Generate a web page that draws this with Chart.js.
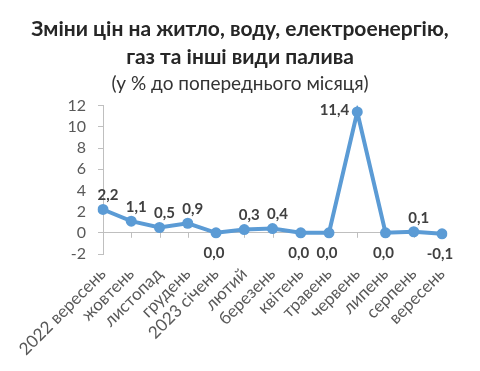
<!DOCTYPE html>
<html>
<head>
<meta charset="utf-8">
<script src="https://cdn.jsdelivr.net/npm/chart.js@4.4.0/dist/chart.umd.min.js"></script>
<style>
    html, body { margin: 0; padding: 0; background: #fff; }
    #wrap { width: 480px; height: 371px; }
</style>
</head>
<body>
<div id="wrap"><canvas id="price-line-chart"></canvas></div>
<script>
var months = ['2022 вересень', 'жовтень', 'листопад', 'грудень', '2023 січень', 'лютий',
    'березень', 'квітень', 'травень', 'червень', 'липень', 'серпень', 'вересень'];
var price_change = [2.2, 1.1, 0.5, 0.9, 0.0, 0.3, 0.4, 0.0, 0.0, 11.4, 0.0, 0.1, -0.1];
var y_min = -2, y_max = 12, y_step = 2;

var title_lines = ['Зміни цін на житло, воду, електроенергію,', 'газ та інші види палива'];
var subtitle_text = '(у % до попереднього місяця)';

var FONT = 'Lato, "Open Sans", sans-serif';
var AXIS_GREY = '#bfbfbf';

function fmt(v) {
    return v.toFixed(1).replace('.', ',');
}

// excel style: axis line at zero with small category ticks hanging below it
var zeroTicks = {
    id: 'zeroTicks',
    beforeDatasetsDraw: function(chart) {
        var ctx = chart.ctx, x = chart.scales.x, y = chart.scales.y;
        var y0 = y.getPixelForValue(0);
        ctx.save();
        ctx.strokeStyle = AXIS_GREY;
        ctx.lineWidth = 1;
        ctx.beginPath();
        for (var i = 0; i < months.length; i++) {
            var px = Math.round(x.getPixelForValue(i)) + 0.5;
            ctx.moveTo(px, y0);
            ctx.lineTo(px, y0 + 5);
        }
        ctx.stroke();
        ctx.restore();
    }
};

var pointLabels = {
    id: 'pointLabels',
    afterDatasetsDraw: function(chart) {
        var ctx = chart.ctx;
        var pts = chart.getDatasetMeta(0).data;
        var top = Math.max.apply(null, price_change);
        ctx.save();
        ctx.font = 'bold 15px ' + FONT;
        ctx.fillStyle = '#404040';
        ctx.textBaseline = 'middle';
        pts.forEach(function(p, i) {
            var v = price_change[i];
            if (v === top) {
                ctx.textAlign = 'right';
                ctx.fillText(fmt(v), p.x - 8, p.y - 2);
            } else if (v > 0) {
                ctx.textAlign = 'center';
                ctx.fillText(fmt(v), p.x + 5, p.y - 14);
            } else {
                ctx.textAlign = 'center';
                ctx.fillText(fmt(v), p.x - 2, p.y + 20);
            }
        });
        ctx.restore();
    }
};

var price_config = {
    type: 'line',
    data: {
        labels: months,
        datasets: [{
            data: price_change,
            borderColor: '#5b9bd5',
            backgroundColor: '#5b9bd5',
            borderWidth: 4,
            pointRadius: 5.5,
            pointHoverRadius: 5.5,
            pointBorderWidth: 0,
            tension: 0,
            fill: false
        }]
    },
    options: {
        responsive: true,
        maintainAspectRatio: false,
        devicePixelRatio: 1,
        animation: false,
        layout: { padding: 0 },
        plugins: {
            legend: { display: false },
            tooltip: { enabled: false },
            title: {
                display: true,
                text: title_lines,
                color: '#262626',
                font: { family: FONT, size: 21, weight: 'bold', lineHeight: 1.3 },
                padding: { top: 16, bottom: 0 }
            },
            subtitle: {
                display: true,
                text: subtitle_text,
                color: '#333333',
                font: { family: FONT, size: 19, lineHeight: 1.0 },
                padding: { top: 4, bottom: 12 }
            }
        },
        scales: {
            x: {
                offset: false,
                grid: { display: false },
                border: { display: false },
                ticks: {
                    color: '#595959',
                    font: { family: FONT, size: 17 },
                    minRotation: 45,
                    maxRotation: 45,
                    autoSkip: false,
                    padding: 2
                },
                afterFit: function(scale) {
                    scale.height = 117;
                    scale.paddingLeft = 0;
                    scale.paddingRight = 38;
                }
            },
            y: {
                min: y_min,
                max: y_max,
                grid: {
                    color: function(c) { return c.tick && c.tick.value === 0 ? AXIS_GREY : 'rgba(0,0,0,0)'; },
                    tickColor: AXIS_GREY,
                    tickLength: 5,
                    drawTicks: true
                },
                border: { display: true, color: AXIS_GREY },
                ticks: {
                    stepSize: y_step,
                    autoSkip: false,
                    color: '#595959',
                    font: { family: FONT, size: 16 },
                    padding: 12
                },
                afterFit: function(scale) { scale.width = 103; }
            }
        }
    },
    plugins: [zeroTicks, pointLabels]
};

window.onload = function() {
    var price_ctx = document.getElementById('price-line-chart').getContext('2d');
    window.priceLine = new Chart(price_ctx, price_config);
};
</script>
</body>
</html>
